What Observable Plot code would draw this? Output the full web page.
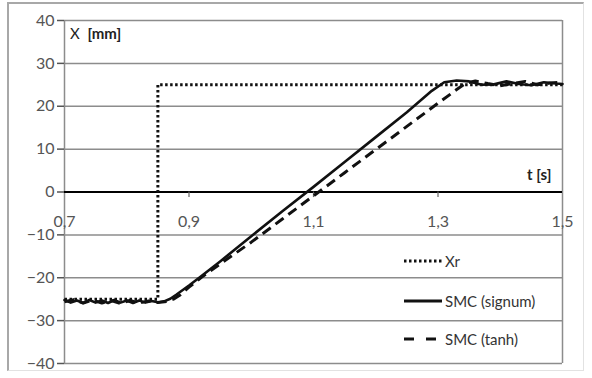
<!DOCTYPE html>
<html>
<head>
<meta charset="utf-8">
<script src="https://cdn.jsdelivr.net/npm/d3@7"></script>
<script src="https://cdn.jsdelivr.net/npm/@observablehq/plot@0.6"></script>
<style>
  html, body { margin: 0; padding: 0; background: #fff; }
  #wrap { position: relative; width: 592px; height: 378px; font-family: Lato, "Open Sans", sans-serif; }
  #frame { position: absolute; left: 7px; top: 2px; width: 577px; height: 369px;
           border-left: 2px solid #a8a8a8; border-top: 2px solid #a8a8a8;
           border-right: 1px solid #e2e2e2; border-bottom: 1px solid #e2e2e2; box-sizing: border-box; }
  .lbl { position: absolute; font-size: 15px; color: #222; white-space: nowrap; line-height: 1; }
  .leg { position: absolute; left: 404px; font-size: 15px; color: #333; display: flex; align-items: center; line-height: 1; }
  .leg svg { margin-right: 3px; }
</style>
</head>
<body>
<div id="wrap">
  <div id="frame"></div>
</div>
<script>
// ---- data ----
const xTicks = [0.7, 0.9, 1.1, 1.3, 1.5];
const yTicks = [-40, -30, -20, -10, 0, 10, 20, 30, 40];

const xrT = [0.70, 0.85, 0.85, 1.50];
const xrV = [-25, -25, 25, 25];

const sgnT = [0.70, 0.71, 0.72, 0.73, 0.74, 0.75, 0.76, 0.77, 0.78, 0.79, 0.80, 0.81, 0.82, 0.83, 0.84, 0.85, 0.86, 0.87, 0.88, 0.90, 0.92, 0.95, 1.00, 1.05, 1.10, 1.15, 1.20, 1.25, 1.29, 1.31, 1.33, 1.35, 1.37, 1.39, 1.41, 1.43, 1.45, 1.47, 1.49, 1.50];
const sgnV = [-25.2, -25.8, -25.3, -25.9, -25.2, -25.8, -25.3, -25.9, -25.2, -25.8, -25.3, -25.9, -25.3, -25.8, -25.4, -25.7, -25.5, -24.9, -23.9, -21.8, -19.6, -16.2, -10.3, -4.5, 1.2, 7.0, 12.8, 18.6, 23.6, 25.6, 26.0, 25.8, 25.0, 25.1, 25.8, 25.2, 24.9, 25.6, 25.3, 25.2];

const tanhT = [0.70, 0.715, 0.73, 0.745, 0.76, 0.775, 0.79, 0.805, 0.82, 0.835, 0.85, 0.865, 0.875, 0.885, 0.90, 0.92, 0.95, 1.00, 1.05, 1.10, 1.15, 1.20, 1.25, 1.30, 1.33, 1.345, 1.36, 1.38, 1.40, 1.42, 1.44, 1.46, 1.48, 1.50];
const tanhV = [-25.6, -25.1, -25.9, -25.2, -25.9, -25.3, -26.0, -25.3, -25.9, -25.4, -25.8, -25.5, -25.0, -24.1, -22.2, -19.9, -16.8, -11.7, -6.3, -0.9, 4.5, 9.9, 15.3, 20.7, 23.9, 25.4, 25.9, 25.3, 24.8, 25.3, 25.8, 25.0, 25.4, 25.6];

const legendLabels = ["Xr", "SMC (signum)", "SMC (tanh)"];

// ---- build tables ----
const xr = xrT.map((t, i) => ({t, v: xrV[i]}));
const sgn = sgnT.map((t, i) => ({t, v: sgnV[i]}));
const tnh = tanhT.map((t, i) => ({t, v: tanhV[i]}));
const fmt = d => d.toFixed(1).replace(".", ",");

const chart = Plot.plot({
  width: 592,
  height: 378,
  marginLeft: 64,
  marginRight: 30,
  marginTop: 20,
  marginBottom: 15,
  style: {fontFamily: "Lato, 'Open Sans', sans-serif", fontSize: "15px", background: "transparent"},
  x: {domain: [0.7, 1.5], axis: null},
  y: {domain: [-40, 40], axis: null},
  marks: [
    Plot.gridY(yTicks, {stroke: "#8c8c8c", strokeOpacity: 1, strokeWidth: 1.5}),
    Plot.ruleX([0.7, 1.5], {stroke: "#8c8c8c", strokeWidth: 1.5}),
    Plot.axisY(yTicks, {anchor: "left", label: null, tickSize: 7, tickPadding: 3, color: "#555", strokeWidth: 1.5, fontSize: 16}),
    Plot.ruleY([0], {stroke: "#000", strokeWidth: 2}),
    Plot.ruleX(xTicks.slice(1, -1), {y1: 0, y2: -1.3, stroke: "#666", strokeWidth: 1.2}),
    Plot.text(xTicks, {x: d => d, y: 0, dy: 30, text: fmt, fill: "#555", fontSize: 16}),
    Plot.line(xr, {x: "t", y: "v", stroke: "#111", strokeWidth: 3, strokeDasharray: "2.5,2.5", strokeLinecap: "butt", strokeLinejoin: "miter"}),
    Plot.line(tnh, {x: "t", y: "v", stroke: "#111", strokeWidth: 3, strokeDasharray: "10,6", strokeLinecap: "butt"}),
    Plot.line(sgn, {x: "t", y: "v", stroke: "#111", strokeWidth: 2.6})
  ]
});
chart.style.position = "absolute";
chart.style.left = "0px";
chart.style.top = "0px";
const wrap = document.getElementById("wrap");
wrap.appendChild(chart);

// axis titles
const yl = document.createElement("div");
yl.className = "lbl";
yl.style.left = "70px"; yl.style.top = "26px";
yl.innerHTML = "X&nbsp; <b>[mm]</b>";
wrap.appendChild(yl);
const xl = document.createElement("div");
xl.className = "lbl";
xl.style.left = "527px"; xl.style.top = "167px";
xl.innerHTML = "<b>t [s]</b>";
wrap.appendChild(xl);

// legend
const dashes = ["2.5,2.5", "", "10,12"];
const widths = [3, 2.8, 3];
const tops = [253, 293, 331];
legendLabels.forEach((lab, i) => {
  const d = document.createElement("div");
  d.className = "leg";
  d.style.top = tops[i] + "px";
  d.innerHTML = `<svg width="38" height="16"><line x1="0" x2="38" y1="8" y2="8" stroke="#111" stroke-width="${widths[i]}" stroke-linecap="butt" ${dashes[i] ? `stroke-dasharray="${dashes[i]}"` : ""}/></svg><span>${lab}</span>`;
  wrap.appendChild(d);
});
</script>
</body>
</html>
